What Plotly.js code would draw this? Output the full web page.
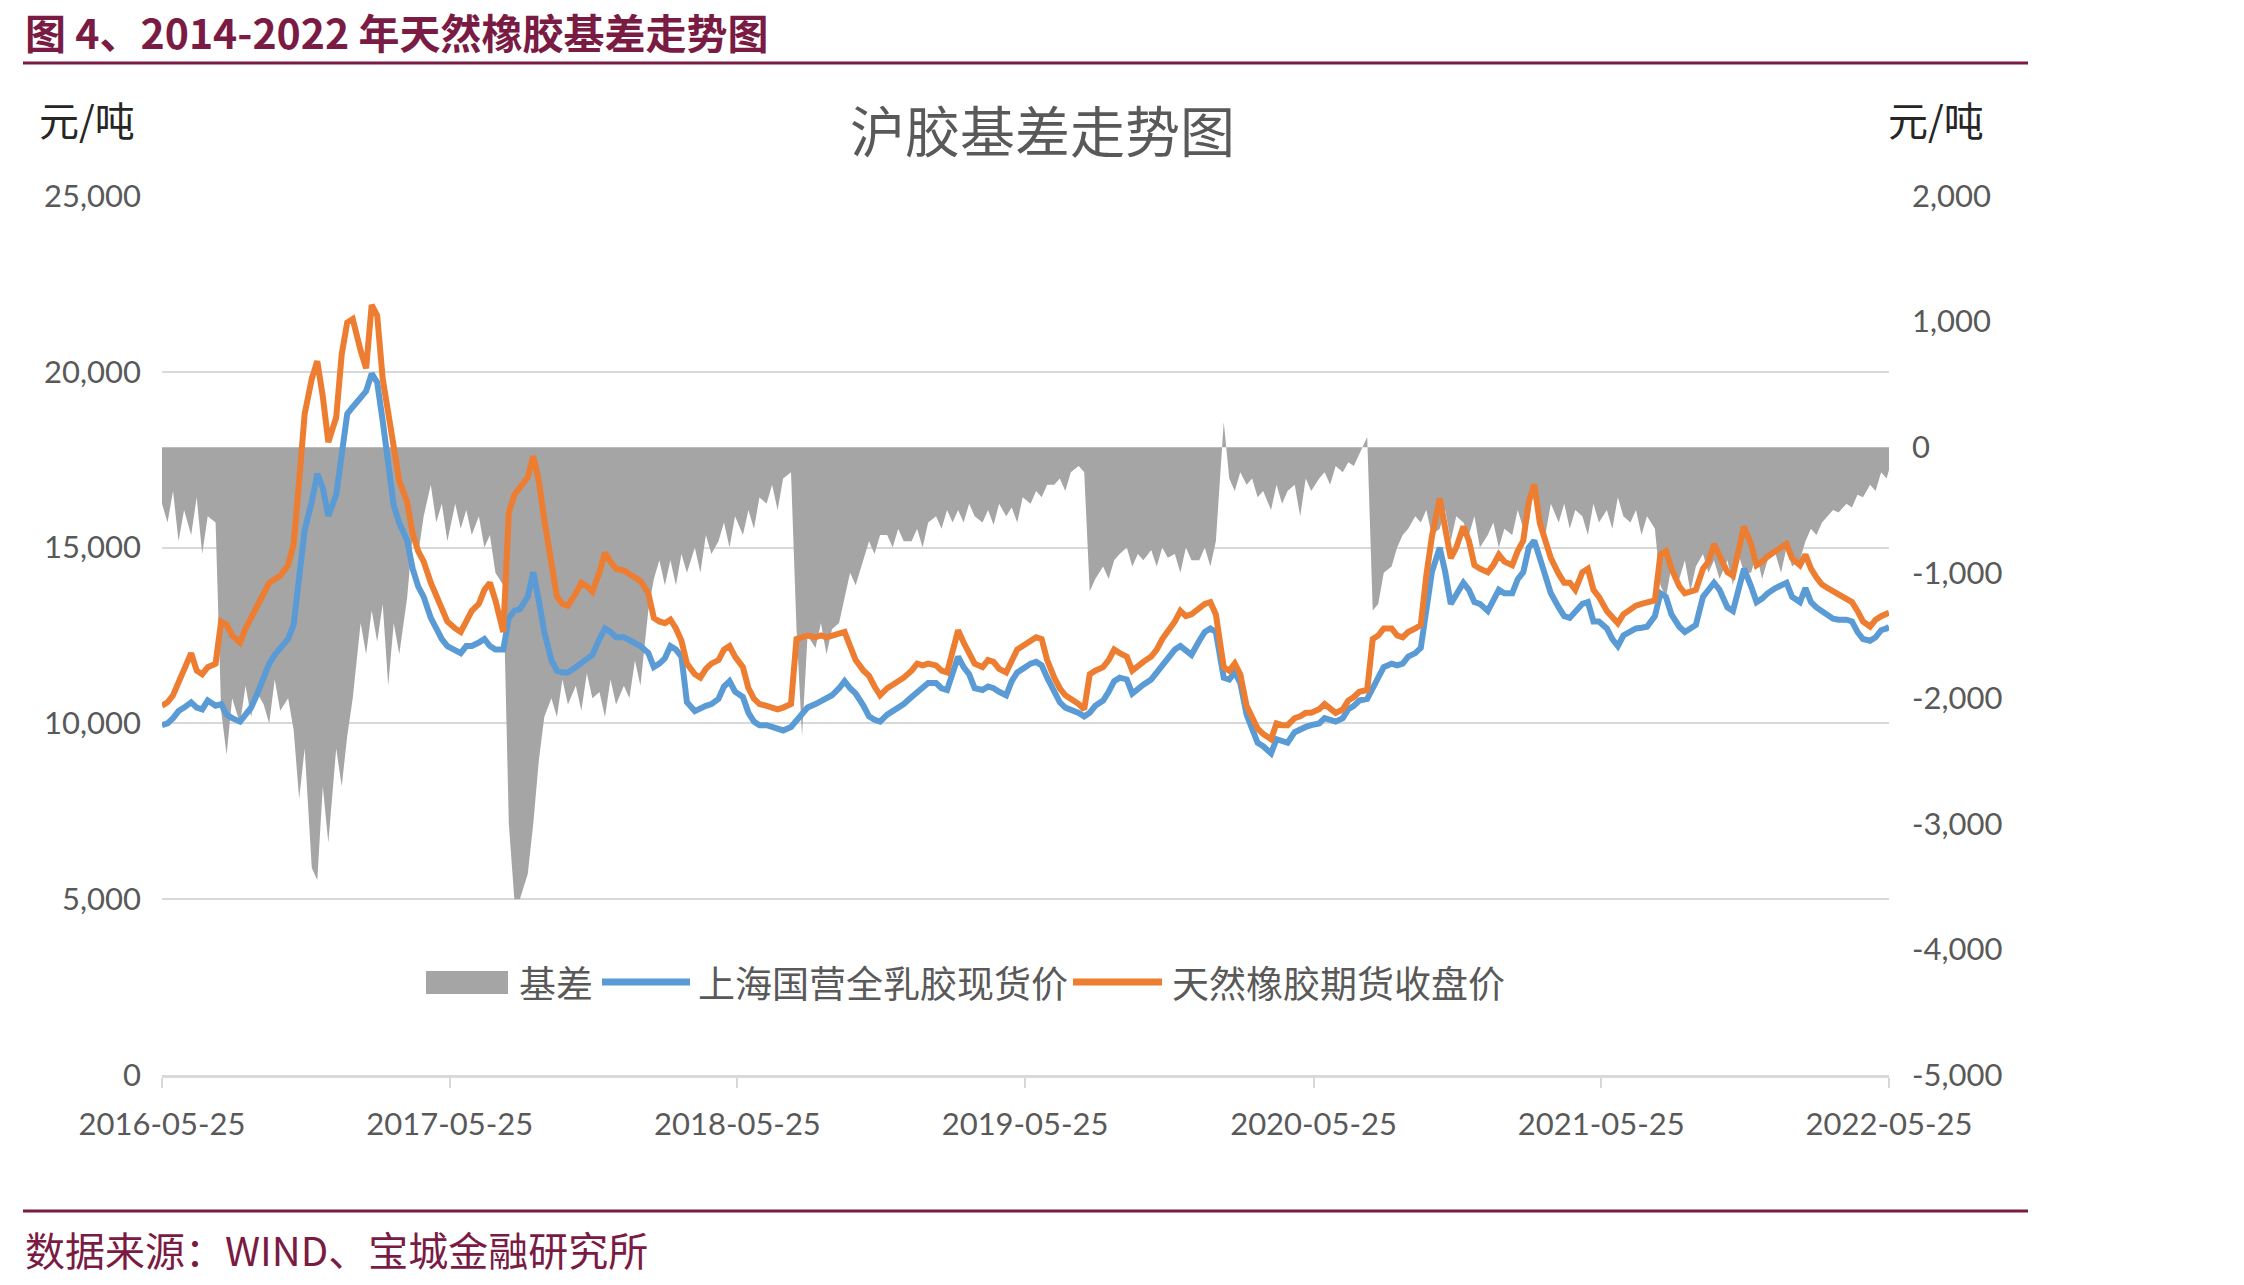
<!DOCTYPE html>
<html>
<head>
<meta charset="utf-8">
<script src="https://cdn.plot.ly/plotly-3.0.1.min.js"></script>
<style>
  html, body { margin: 0; padding: 0; background: #ffffff; }
  #chart { width: 2244px; height: 1285px; }
</style>
</head>
<body>
<div id="chart"></div>
<script>
// Weekly observation dates (1st, 8th, 15th, 22nd of each month)
const dates = [
  '2016-05-25',
  '2016-06-01','2016-06-08','2016-06-15','2016-06-22','2016-07-01','2016-07-08','2016-07-15','2016-07-22',
  '2016-08-01','2016-08-08','2016-08-15','2016-08-22','2016-09-01','2016-09-08','2016-09-15','2016-09-22',
  '2016-10-01','2016-10-08','2016-10-15','2016-10-22','2016-11-01','2016-11-08','2016-11-15','2016-11-22',
  '2016-12-01','2016-12-08','2016-12-15','2016-12-22',
  '2017-01-01','2017-01-08','2017-01-15','2017-01-22','2017-02-01','2017-02-08','2017-02-15','2017-02-22',
  '2017-03-01','2017-03-08','2017-03-15','2017-03-22','2017-04-01','2017-04-08','2017-04-15','2017-04-22',
  '2017-05-01','2017-05-08','2017-05-15','2017-05-22','2017-06-01','2017-06-08','2017-06-15','2017-06-22',
  '2017-07-01','2017-07-08','2017-07-15','2017-07-22','2017-08-01','2017-08-08','2017-08-15','2017-08-22',
  '2017-09-01','2017-09-08','2017-09-15','2017-09-22','2017-10-01','2017-10-08','2017-10-15','2017-10-22',
  '2017-11-01','2017-11-08','2017-11-15','2017-11-22','2017-12-01','2017-12-08','2017-12-15','2017-12-22',
  '2018-01-01','2018-01-08','2018-01-15','2018-01-22','2018-02-01','2018-02-08','2018-02-15','2018-02-22',
  '2018-03-01','2018-03-08','2018-03-15','2018-03-22','2018-04-01','2018-04-08','2018-04-15','2018-04-22',
  '2018-05-01','2018-05-08','2018-05-15','2018-05-22','2018-06-01','2018-06-08','2018-06-15','2018-06-22',
  '2018-07-01','2018-07-08','2018-07-15','2018-07-22','2018-08-01','2018-08-08','2018-08-15','2018-08-22',
  '2018-09-01','2018-09-08','2018-09-15','2018-09-22','2018-10-01','2018-10-08','2018-10-15','2018-10-22',
  '2018-11-01','2018-11-08','2018-11-15','2018-11-22','2018-12-01','2018-12-08','2018-12-15','2018-12-22',
  '2019-01-01','2019-01-08','2019-01-15','2019-01-22','2019-02-01','2019-02-08','2019-02-15','2019-02-22',
  '2019-03-01','2019-03-08','2019-03-15','2019-03-22','2019-04-01','2019-04-08','2019-04-15','2019-04-22',
  '2019-05-01','2019-05-08','2019-05-15','2019-05-22','2019-06-01','2019-06-08','2019-06-15','2019-06-22',
  '2019-07-01','2019-07-08','2019-07-15','2019-07-22','2019-08-01','2019-08-08','2019-08-15','2019-08-22',
  '2019-09-01','2019-09-08','2019-09-15','2019-09-22','2019-10-01','2019-10-08','2019-10-15','2019-10-22',
  '2019-11-01','2019-11-08','2019-11-15','2019-11-22','2019-12-01','2019-12-08','2019-12-15','2019-12-22',
  '2020-01-01','2020-01-08','2020-01-15','2020-01-22','2020-02-01','2020-02-08','2020-02-15','2020-02-22',
  '2020-03-01','2020-03-08','2020-03-15','2020-03-22','2020-04-01','2020-04-08','2020-04-15','2020-04-22',
  '2020-05-01','2020-05-08','2020-05-15','2020-05-22','2020-06-01','2020-06-08','2020-06-15','2020-06-22',
  '2020-07-01','2020-07-08','2020-07-15','2020-07-22','2020-08-01','2020-08-08','2020-08-15','2020-08-22',
  '2020-09-01','2020-09-08','2020-09-15','2020-09-22','2020-10-01','2020-10-08','2020-10-15','2020-10-22',
  '2020-11-01','2020-11-08','2020-11-15','2020-11-22','2020-12-01','2020-12-08','2020-12-15','2020-12-22',
  '2021-01-01','2021-01-08','2021-01-15','2021-01-22','2021-02-01','2021-02-08','2021-02-15','2021-02-22',
  '2021-03-01','2021-03-08','2021-03-15','2021-03-22','2021-04-01','2021-04-08','2021-04-15','2021-04-22',
  '2021-05-01','2021-05-08','2021-05-15','2021-05-22','2021-06-01','2021-06-08','2021-06-15','2021-06-22',
  '2021-07-01','2021-07-08','2021-07-15','2021-07-22','2021-08-01','2021-08-08','2021-08-15','2021-08-22',
  '2021-09-01','2021-09-08','2021-09-15','2021-09-22','2021-10-01','2021-10-08','2021-10-15','2021-10-22',
  '2021-11-01','2021-11-08','2021-11-15','2021-11-22','2021-12-01','2021-12-08','2021-12-15','2021-12-22',
  '2022-01-01','2022-01-08','2022-01-15','2022-01-22','2022-02-01','2022-02-08','2022-02-15','2022-02-22',
  '2022-03-01','2022-03-08','2022-03-15','2022-03-22','2022-04-01','2022-04-08','2022-04-15','2022-04-22',
  '2022-05-01','2022-05-08','2022-05-15','2022-05-22',
  '2022-05-25'
];

// 上海国营全乳胶现货价 (元/吨)
const spotPrice = [
  9950,
  10000,10150,10350,10450, 10600,10450,10400,10650, 10500,10550,10250,10150, 10050,10250,10450,10800,
  11350,11700,11950,12150, 12400,12800,14000,15500, 16300,17100,16700,15900,
  16500,17800,18800,19000, 19300,19450,19950,19700, 18600,17400,16200,15700, 15200,14400,13900,13600,
  13000,12700,12400,12200, 12100,12000,12200,12200, 12300,12400,12200,12100, 12100,13000,13200,13250,
  13600,14300,13500,12600, 11800,11500,11450,11450, 11600,11700,11850,11950, 12400,12700,12600,12450,
  12450,12350,12300,12200, 12000,11600,11700,11850, 12200,12100,11900,10600, 10350,10450,10500,10550,
  10700,11050,11200,10900, 10750,10300,10050,9950, 9950,9900,9850,9800, 9900,10100,10300,10450,
  10550,10650,10700,10800, 11000,11200,11000,10850, 10500,10200,10100,10050, 10250,10350,10450,10550,
  10750,10900,11000,11150, 11150,11000,10950,11400, 11900,11600,11400,11000, 10950,11050,11000,10900,
  10800,11200,11450,11550, 11700,11750,11650,11300, 10900,10600,10450,10400, 10300,10200,10300,10500,
  10650,10900,11200,11300, 11250,10850,10950,11100, 11250,11450,11650,11800, 12100,12200,12050,11950,
  12350,12600,12700,12600, 11300,11250,11450,11150, 10250,9900,9450,9350, 9150,9550,9500,9450,
  9750,9850,9900,9950, 10000,10150,10100,10050, 10150,10400,10500,10650, 10700,11050,11300,11600,
  11700,11650,11700,11900, 12000,12150,13300,14300, 15000,14300,13400,13700, 14000,13800,13450,13400,
  13200,13500,13800,13700, 13700,14100,14300,15000, 15200,14700,14200,13700, 13300,13050,13000,13150,
  13400,13450,12900,12900, 12700,12400,12200,12500, 12600,12700,12720,12750, 13050,13700,13600,13100,
  12750,12600,12700,12800, 13600,13800,14000,13800, 13300,13200,13800,14400, 13900,13450,13550,13700,
  13850,13950,14000,13600, 13450,13850,13450,13300, 13200,13100,12980,12950, 12950,12900,12600,12400,
  12350,12450,12650,12700,
  12750
];

// 天然橡胶期货收盘价 (元/吨)
const futuresClose = [
  10500,
  10600,10800,11200,11500, 12000,11500,11400,11600, 11700,12900,12800,12500, 12300,12700,13000,13300,
  13700,14000,14100,14200, 14500,15100,16900,18800, 19800,20300,19300,18000,
  18700,20500,21400,21500, 20600,20100,21900,21600, 19800,18900,17900,16900, 16300,15400,14900,14600,
  14000,13600,13200,12900, 12700,12600,12900,13200, 13400,13800,14000,13500, 12600,16000,16500,16700,
  17000,17600,16900,15800, 14500,13600,13400,13350, 13700,14000,13900,13750, 14300,14850,14600,14400,
  14350,14250,14200,14050, 13700,13000,12900,12850, 12950,12700,12350,11700, 11400,11300,11550,11700,
  11800,12100,12200,11900, 11600,11000,10700,10550, 10500,10450,10400,10450, 10550,12400,12450,12500,
  12450,12500,12450,12500, 12550,12600,12200,11800, 11500,11350,11050,10800, 11000,11100,11250,11300,
  11500,11700,11650,11700, 11650,11500,11450,12000, 12650,12300,12000,11700, 11600,11800,11750,11550,
  11450,11800,12100,12200, 12350,12450,12400,11800, 11300,11000,10800,10700, 10550,10400,11400,11500,
  11600,11800,12100,12000, 11900,11500,11600,11750, 11900,12100,12400,12600, 12900,13200,13050,13100,
  13250,13400,13450,13100, 11600,11500,11700,11400, 10500,10200,9850,9700, 9550,10000,9950,9950,
  10150,10200,10300,10300, 10400,10550,10450,10300, 10400,10650,10750,10900, 10950,12400,12500,12700,
  12700,12500,12450,12600, 12700,12800,14200,15300, 16400,15600,14700,15000, 15600,15200,14500,14400,
  14300,14500,14800,14600, 14500,14900,15200,16300, 16800,15700,15200,14700, 14250,14000,14000,13800,
  14300,14400,13800,13600, 13200,13000,12850,13100, 13250,13350,13400,13450, 13500,14800,14900,14400,
  13900,13700,13750,13800, 14400,14600,15100,14800, 14300,14200,14900,15600, 15100,14500,14600,14750,
  14900,15000,15100,14700, 14500,14800,14400,14150, 13950,13850,13750,13700, 13550,13450,13200,12900,
  12750,12950,13050,13100,
  13150
];

// 基差 (元/吨, right axis)
const basis = [
  -450,
  -600,-350,-750,-500, -700,-400,-850,-550, -600,-2100,-2450,-2000, -2200,-1900,-2150,-1950,
  -2050,-2200,-1850,-2100, -2000,-2250,-2800,-2400, -3350,-3450,-2700,-3150,
  -2400,-2700,-2300,-2000, -1400,-1650,-1300,-1550, -1250,-1900,-1400,-1650, -1200,-700,-850,-550,
  -300,-600,-450,-750, -450,-650,-500,-700, -550,-800,-700,-1000, -1100,-3000,-3600,-3600,
  -3400,-3000,-2500,-2150, -2000,-2150,-1850,-2050, -1900,-2100,-1800,-2000, -1950,-2150,-1850,-2050,
  -1900,-2000,-1700,-1900, -1300,-1050,-900,-1100, -900,-1100,-850,-1000, -800,-1000,-700,-850,
  -750,-600,-800,-550, -700,-500,-650,-400, -450,-300,-500,-250, -200,-1450,-2300,-1500,
  -1600,-1400,-1650,-1450, -1400,-1200,-1000,-1100, -900,-750,-850,-700, -700,-800,-650,-750,
  -750,-650,-800,-600, -550,-650,-500,-600, -500,-600,-450,-550, -600,-500,-620,-450,
  -550,-480,-600,-400, -450,-350,-400,-300, -300,-250,-350,-200, -150,-200,-1150,-1050,
  -950,-1050,-900,-850, -800,-950,-850,-900, -820,-950,-800,-880, -850,-1000,-800,-900,
  -900,-800,-950,-750, 200,-250,-350,-200, -300,-250,-400,-350, -500,-300,-450,-350,
  -300,-550,-250,-350, -250,-200,-300,-150, -200,-120,-150,-60, 80,-1300,-1250,-1000,
  -950,-800,-700,-650, -550,-600,-500,-700, -650,-500,-750,-550, -600,-700,-550,-800,
  -700,-600,-800,-650, -700,-500,-650,-600, -300,-550,-700,-450, -600,-450,-650,-500,
  -550,-700,-450,-600, -500,-650,-400,-550, -600,-500,-700,-550, -650,-1100,-1200,-950,
  -1050,-900,-1150,-950, -850,-1000,-900,-1050, -900,-1100,-850,-1000, -1000,-850,-1050,-900,
  -850,-1000,-800,-950, -900,-750,-650,-700, -600,-550,-500,-520, -450,-480,-380,-400,
  -300,-350,-200,-250,
  -180
];

const seriesNames = ['基差', '上海国营全乳胶现货价', '天然橡胶期货收盘价'];
const seriesColors = ['#A5A5A5', '#5B9BD5', '#ED7D31'];

const xTickDates  = ['2016-05-25','2017-05-25','2018-05-25','2019-05-25','2020-05-25','2021-05-25','2022-05-25'];
const xTickLabels = ['2016-05-25','2017-05-25','2018-05-25','2019-05-25','2020-05-25','2021-05-25','2022-05-25'];
const leftTicks   = [0, 5000, 10000, 15000, 20000, 25000];
const leftLabels  = ['0', '5,000', '10,000', '15,000', '20,000', '25,000'];
const rightTicks  = [-5000, -4000, -3000, -2000, -1000, 0, 1000, 2000];
const rightLabels = ['-5,000', '-4,000', '-3,000', '-2,000', '-1,000', '0', '1,000', '2,000'];

const chartTitle = '沪胶基差走势图';
const unitLabel = '元/吨';
const figureTitle = '图 4、2014-2022 年天然橡胶基差走势图';
const sourceNote = '数据来源：WIND、宝城金融研究所';

// ---- page geometry (pixels) ----
const W = 2244, H = 1285;
const M = { l: 162, r: 355, t: 196, b: 210 };
const plotW = W - M.l - M.r;
const plotH = H - M.t - M.b;
const px = x => (x - M.l) / plotW;            // page x -> paper x
const py = y => (H - M.b - y) / plotH;         // page y -> paper y

const maroon = '#7A1B44';
const tickFont = { family: 'Lato, "Noto Sans CJK SC", sans-serif', size: 31, color: '#595959' };
const cjk = '"Noto Sans CJK SC", "Noto Sans", sans-serif';

const traces = [
  {
    x: dates, y: basis, name: seriesNames[0], type: 'scatter', mode: 'lines',
    fill: 'tozeroy', fillcolor: seriesColors[0],
    line: { width: 0, color: seriesColors[0] },
    xaxis: 'x', yaxis: 'y'
  },
  {
    x: dates, y: spotPrice, name: seriesNames[1], type: 'scatter', mode: 'lines',
    line: { width: 6, color: seriesColors[1] },
    xaxis: 'x', yaxis: 'y2'
  },
  {
    x: dates, y: futuresClose, name: seriesNames[2], type: 'scatter', mode: 'lines',
    line: { width: 6, color: seriesColors[2] },
    xaxis: 'x', yaxis: 'y2'
  }
];

// legend drawn as swatches + labels
const legendShapes = [
  { type: 'rect', xref: 'paper', yref: 'paper', x0: px(426), x1: px(508), y0: py(994), y1: py(971),
    fillcolor: seriesColors[0], line: { width: 0 } },
  { type: 'line', xref: 'paper', yref: 'paper', x0: px(602), x1: px(690), y0: py(982), y1: py(982),
    line: { color: seriesColors[1], width: 7 } },
  { type: 'line', xref: 'paper', yref: 'paper', x0: px(1073), x1: px(1162), y0: py(982), y1: py(982),
    line: { color: seriesColors[2], width: 7 } }
];
const legendLabelX = [518, 697, 1171];

const annotations = [
  { text: '<b>' + figureTitle + '</b>', x: px(24), y: py(31), xanchor: 'left', yanchor: 'middle',
    font: { family: cjk, size: 41, color: maroon } },
  { text: chartTitle, x: px(1042), y: py(128), xanchor: 'center', yanchor: 'middle',
    font: { family: cjk, size: 55, color: '#595959' } },
  { text: unitLabel, x: px(38), y: py(119), xanchor: 'left', yanchor: 'middle',
    font: { family: cjk, size: 40, color: '#262626' } },
  { text: unitLabel, x: px(1887), y: py(119), xanchor: 'left', yanchor: 'middle',
    font: { family: cjk, size: 40, color: '#262626' } },
  { text: sourceNote, x: px(24), y: py(1249), xanchor: 'left', yanchor: 'middle',
    font: { family: cjk, size: 40, color: maroon } }
].concat(seriesNames.map((n, i) => ({
  text: n, x: px(legendLabelX[i]), y: py(982), xanchor: 'left', yanchor: 'middle',
  font: { family: cjk, size: 37, color: '#595959' }
}))).map(a => Object.assign({ xref: 'paper', yref: 'paper', showarrow: false, borderpad: 0 }, a));

const layout = {
  width: W, height: H,
  margin: { l: M.l, r: M.r, t: M.t, b: M.b, pad: 0 },
  paper_bgcolor: '#ffffff',
  plot_bgcolor: 'rgba(0,0,0,0)',
  showlegend: false,
  font: { family: 'Lato, "Noto Sans CJK SC", sans-serif', color: '#595959' },
  xaxis: {
    type: 'date',
    range: [xTickDates[0], xTickDates[xTickDates.length - 1]],
    tickmode: 'array', tickvals: xTickDates, ticktext: xTickLabels,
    ticks: 'outside', ticklen: 10, tickwidth: 2, tickcolor: '#D9D9D9',
    showgrid: false, zeroline: false,
    showline: true, linecolor: '#D9D9D9', linewidth: 3,
    tickfont: tickFont, ticklabelstandoff: 10
  },
  yaxis: {
    side: 'right', range: [-5000, 2000],
    tickmode: 'array', tickvals: rightTicks, ticktext: rightLabels,
    showgrid: false, zeroline: false, showline: false, ticks: '',
    tickfont: tickFont, ticklabelstandoff: 22
  },
  yaxis2: {
    overlaying: 'y', side: 'left', range: [0, 25000],
    tickmode: 'array', tickvals: leftTicks, ticktext: leftLabels,
    showgrid: true, gridcolor: '#D9D9D9', gridwidth: 2,
    zeroline: false, showline: false, ticks: '',
    tickfont: tickFont, ticklabelstandoff: 20
  },
  shapes: [
    { type: 'line', xref: 'paper', yref: 'paper', x0: px(23), x1: px(2028), y0: py(63), y1: py(63),
      line: { color: maroon, width: 3 } },
    { type: 'line', xref: 'paper', yref: 'paper', x0: px(23), x1: px(2028), y0: py(1211), y1: py(1211),
      line: { color: maroon, width: 3 } }
  ].concat(legendShapes),
  annotations: annotations
};

Plotly.newPlot('chart', traces, layout, { staticPlot: true, displayModeBar: false });
</script>
</body>
</html>
